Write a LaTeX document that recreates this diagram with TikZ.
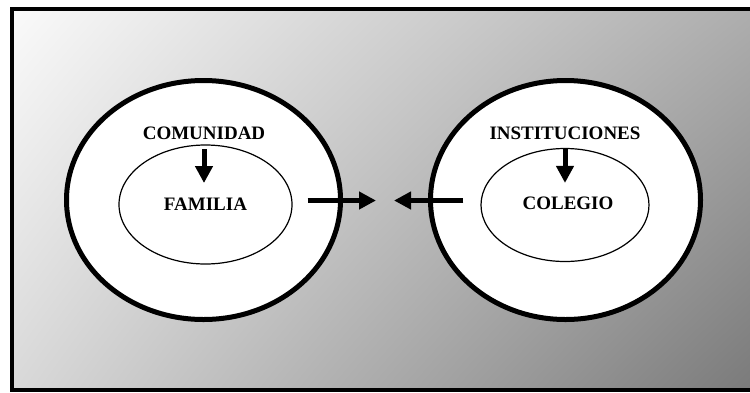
\documentclass[tikz,border=0pt]{standalone}
\usepackage{fontspec}
\setmainfont{Liberation Serif}
\usetikzlibrary{arrows.meta,shapes.geometric,shadings}
\begin{document}
\begin{tikzpicture}[x=1pt,y=-1pt,
  elipseext/.style={ellipse,draw,line width=5pt,fill=white,inner sep=0pt},
  elipseint/.style={ellipse,draw,line width=1.2pt,fill=white,inner sep=0pt},
  rotulo/.style={inner sep=0pt,font=\fontsize{19}{22}\selectfont\bfseries},
  flecha/.style={line width=5pt,-{Triangle[width=17pt,length=17pt]}}]
\useasboundingbox (0,0) rectangle (750,392);
\shade[upper left=black!2,upper right=black!32,lower left=black!15,lower right=black!52] (12,9) rectangle (752,390);
\draw[line width=4pt] (12,9) rectangle (752,390);
\node[elipseext,minimum width=274pt,minimum height=239pt] (comunidadext) at (203.5,200) {};
\node[elipseext,minimum width=270pt,minimum height=239pt] (institucionesext) at (565.5,200) {};
\node[elipseint,minimum width=173pt,minimum height=119pt] (familiaint) at (205.5,204.5) {};
\node[elipseint,minimum width=168pt,minimum height=113pt] (colegioint) at (565,205) {};
\node[rotulo] (comunidad) at (204,133.5) {COMUNIDAD};
\node[rotulo] (familia) at (205.5,204.5) {FAMILIA};
\node[rotulo] (instituciones) at (565,133.5) {INSTITUCIONES};
\node[rotulo] (colegio) at (568,203.5) {COLEGIO};
\coordinate (centro) at (385,200.5);
\draw[flecha,shorten <=9pt,shorten >=15pt] (comunidad.south) -- (comunidad.south |- familia.north);
\draw[flecha,shorten <=8pt,shorten >=14pt] (instituciones.south) -- (instituciones.south |- colegio.north);
\draw[flecha,shorten <=15pt,shorten >=9pt] (familiaint.east |- centro) -- (centro);
\draw[flecha,shorten <=17pt,shorten >=9pt] (colegioint.west |- centro) -- (centro);
\end{tikzpicture}
\end{document}
